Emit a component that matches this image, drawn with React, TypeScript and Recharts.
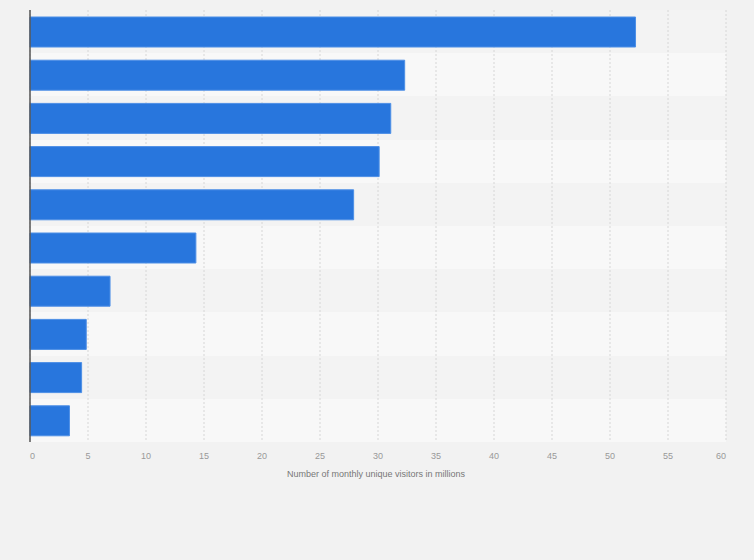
import React from 'react';
import { BarChart, Bar, XAxis, YAxis, CartesianGrid } from 'recharts';

const categories = ['Site 1', 'Site 2', 'Site 3', 'Site 4', 'Site 5', 'Site 6', 'Site 7', 'Site 8', 'Site 9', 'Site 10'];
const visitors = [52.2, 32.3, 31.1, 30.1, 27.9, 14.3, 6.9, 4.85, 4.45, 3.4];
const xTicks = [0, 5, 10, 15, 20, 25, 30, 35, 40, 45, 50, 55, 60];

const data = categories.map((name, i) => ({ name, value: visitors[i] }));

const W = 754;
const H = 560;
const margin = { top: 10, right: 28, left: 0, bottom: 78 };
const yAxisWidth = 30;
const xAxisHeight = 40;
const plotHeight = H - margin.top - margin.bottom - xAxisHeight;
// band boundaries for the alternating row stripes
const bandPoints = categories.map((_, i) => margin.top + (i * plotHeight) / categories.length);

function XTick({ x, y, payload }: any) {
  const v = payload.value;
  const anchor = v === 0 ? 'start' : v === 60 ? 'end' : 'middle';
  return (
    <text x={x} y={y + 17} textAnchor={anchor} fill="#999" fontSize={9} fontFamily="'Liberation Sans', Arial, sans-serif">
      {v}
    </text>
  );
}

export default function App() {
  return (
    <div style={{ position: 'absolute', left: 0, top: 0, width: W, height: H, background: '#f2f2f2' }}>
      <BarChart width={W} height={H} data={data} layout="vertical" margin={margin} barSize={30}>
        <CartesianGrid
          vertical={false}
          stroke="none"
          horizontalPoints={bandPoints}
          horizontalFill={['#f3f3f3', '#f8f8f8']}
          fillOpacity={1}
        />
        <CartesianGrid horizontal={false} stroke="#d6d6d6" strokeDasharray="2 2" />
        <XAxis
          type="number"
          domain={[0, 60]}
          ticks={xTicks}
          axisLine={false}
          tickLine={false}
          tickSize={0}
          tickMargin={0}
          height={xAxisHeight}
          tick={<XTick />}
          interval={0}
        />
        <YAxis
          type="category"
          dataKey="name"
          width={yAxisWidth}
          tick={false}
          tickLine={false}
          axisLine={{ stroke: '#555', strokeWidth: 1.5 }}
        />
        <Bar dataKey="value" fill="#2876dd" stroke="#4d8fe6" strokeWidth={1} isAnimationActive={false} />
        <text x={376} y={477} textAnchor="middle" fill="#777" fontSize={9} fontFamily="'Liberation Sans', Arial, sans-serif">
          Number of monthly unique visitors in millions
        </text>
      </BarChart>
    </div>
  );
}
